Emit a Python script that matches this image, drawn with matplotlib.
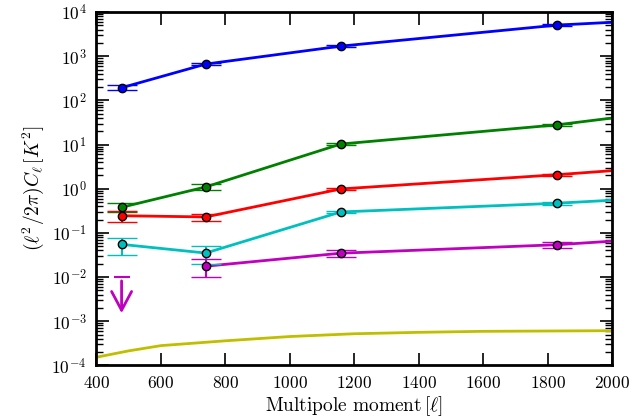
import matplotlib
matplotlib.use('Agg')
import matplotlib.pyplot as plt
import numpy as np

plt.rcParams['font.family'] = 'serif'
plt.rcParams['font.serif'] = ['cmr10']
plt.rcParams['mathtext.fontset'] = 'cm'
plt.rcParams['axes.formatter.use_mathtext'] = True
plt.rcParams['axes.unicode_minus'] = False

# multipole bins where data points sit
ell = [478, 739, 1158, 1828]

blue = [194, 666, 1700, 5080]
blue_err = [25, 40, 90, 250]
blue_end = 5900

green = [0.38, 1.1, 10.3, 28]
green_err = [0.09, 0.17, 0.6, 2.0]
green_end = 40

red = [0.245, 0.23, 0.99, 2.08]
red_err = [0.07, 0.045, 0.06, 0.12]
red_end = 2.57

cyan = [0.055, 0.035, 0.298, 0.47]
cyan_err = [0.023, 0.015, 0.02, 0.04]
cyan_end = 0.55

# magenta: first bin is only an upper limit
magenta_ell = [739, 1158, 1828]
magenta = [0.0176, 0.0347, 0.054]
magenta_err = [0.0074, 0.006, 0.008]
magenta_end = 0.065
magenta_limit = 0.0102
magenta_arrow_start = 0.0082
magenta_arrow_tip = 0.00152

# smooth curve along the bottom
yellow_ell = [400, 500, 600, 800, 1000, 1200, 1400, 1600, 1800, 2000]
yellow = [1.53e-4, 2.13e-4, 2.8e-4, 3.6e-4, 4.5e-4, 5.2e-4, 5.6e-4, 5.9e-4, 6.0e-4, 6.1e-4]

fig = plt.figure(figsize=(6.43, 4.19), dpi=100)
ax = fig.add_axes([0.150, 0.128, 0.802, 0.843])

series = [
    (ell, blue, blue_err, blue_end, 'b'),
    (ell, green, green_err, green_end, 'g'),
    (ell, red, red_err, red_end, 'r'),
    (ell, cyan, cyan_err, cyan_end, 'c'),
    (magenta_ell, magenta, magenta_err, magenta_end, 'm'),
]

for x, y, err, end, col in series:
    # model line runs through the points and on to the right edge
    ax.plot(list(x) + [2000], list(y) + [end], color=col, lw=2, zorder=2)
    ax.errorbar(x, y, yerr=err, fmt='o', color=col, mfc=col, mec='k', mew=1.0,
                ms=6, elinewidth=1.5, capsize=11, capthick=1.5, zorder=3)

# upper limit for the first magenta bin
ax.plot([ell[0]], [magenta_limit], marker='_', ms=11.5, mew=1.5, color='m', ls='none')
ax.annotate('', xy=(ell[0], magenta_arrow_tip), xytext=(ell[0], magenta_arrow_start),
            arrowprops=dict(arrowstyle='->,head_width=0.4,head_length=0.75', color='m',
                            lw=2, shrinkA=0, shrinkB=0, mutation_scale=18))

ax.plot(yellow_ell, yellow, color='y', lw=2, zorder=2)

ax.set_yscale('log')
ax.set_xlim(400, 2000)
ax.set_ylim(1e-4, 1e4)
ax.set_xticks(np.arange(400, 2001, 200))
ax.minorticks_off()
ax.yaxis.set_minor_locator(matplotlib.ticker.LogLocator(base=10, subs=np.arange(2, 10)))
ax.yaxis.set_minor_formatter(matplotlib.ticker.NullFormatter())

ax.tick_params(which='both', direction='in', top=True, right=True, labelsize=12.5)
ax.tick_params(which='major', length=9, width=1.2, pad=7)
ax.tick_params(which='minor', length=5, width=1.0)
for s in ax.spines.values():
    s.set_linewidth(2)

ax.set_xlabel(r'$\mathrm{Multipole\ moment}\,[\ell]$', fontsize=14, labelpad=2)
ax.set_ylabel(r'$(\ell^2/2\pi)C_\ell\,[K^2]$', fontsize=14, labelpad=4)

fig.savefig('out.png', dpi=100)
